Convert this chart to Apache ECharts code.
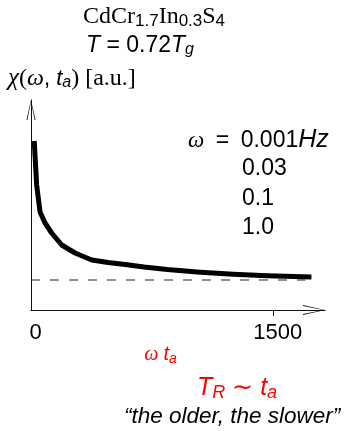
<!DOCTYPE html>
<html>
<head>
<meta charset="utf-8">
<script src="https://cdn.jsdelivr.net/npm/echarts@6/dist/echarts.min.js"></script>
<style>
  html, body { margin: 0; padding: 0; background: #fff; }
  #chart { width: 355px; height: 431px; }
</style>
</head>
<body>
<div id="chart"></div>
<script>
// Ac susceptibility relaxation vs. scaled aging time (omega * t_a)
const agingTime = [20, 35, 56, 87, 128, 190, 273, 376, 477, 583, 700, 843, 1048, 1252, 1463, 1736];
const susceptibility = [169, 125, 98, 87, 77, 65, 57, 50, 47.5, 45.5, 43, 40.5, 37.8, 35.8, 34.3, 33];

// Asymptotic (equilibrium) level
const asymptoteX = [0, 1698];
const asymptoteY = [30, 30];

const xTickLabels = [0, 1500];
const xTicks = [1500];
const frequencies = ['0.001', '0.03', '0.1', '1.0'];

const SANS = 'Liberation Sans';
const SERIF = 'Liberation Serif';

// open chevron used as the axis arrow head
const chevron = 'path://M5,0 L10,22 L9,22 L5,1.8 L1,22 L0,22 Z';

const chart = echarts.init(document.getElementById('chart'), null, { renderer: 'canvas' });

const freqText = frequencies.map(function (f, i) {
  if (i === 0) {
    return {
      type: 'text', left: 188, top: 128,
      style: {
        text: '{w|ω}\u2002=\u2002' + f + '{it|Hz}',
        fill: '#000',
        font: '23px ' + SANS,
        rich: {
          w: { fontFamily: SERIF, fontStyle: 'italic', fontSize: 23 },
          it: { fontFamily: SANS, fontStyle: 'italic', fontSize: 25 }
        }
      }
    };
  }
  return {
    type: 'text', left: 242, top: 128 + i * 29.5,
    style: { text: f, fill: '#000', font: '23px ' + SANS }
  };
});

const option = {
  animation: false,
  backgroundColor: '#fff',
  grid: { left: 31, top: 100, width: 294, height: 210, containLabel: false },
  xAxis: {
    type: 'value',
    min: 0,
    max: 1820,
    splitLine: { show: false },
    axisLine: {
      show: true,
      onZero: false,
      symbol: ['none', chevron],
      symbolSize: [10, 22],
      symbolOffset: [0, -11],
      lineStyle: { color: '#111', width: 1 }
    },
    axisTick: { show: true, customValues: xTicks, length: 6, lineStyle: { color: '#111' } },
    axisLabel: {
      customValues: xTickLabels,
      formatter: function (v) { return String(v); },
      color: '#000',
      fontFamily: SANS,
      fontSize: 22,
      margin: 12,
      padding: [0, 0, 0, 9]
    },
    name: '{w|ω} {it|t}{sub|a}',
    nameLocation: 'middle',
    nameGap: 30,
    nameTextStyle: {
      color: '#ff0000',
      fontFamily: SANS,
      fontSize: 19,
      padding: [0, 35, 0, 0],
      rich: {
        w: { fontFamily: SERIF, fontStyle: 'italic', fontSize: 20, color: '#ff0000' },
        it: { fontFamily: SANS, fontStyle: 'italic', fontSize: 20, color: '#ff0000' },
        sub: { fontFamily: SANS, fontStyle: 'italic', fontSize: 14, color: '#ff0000', padding: [8, 0, 0, 0] }
      }
    }
  },
  yAxis: {
    type: 'value',
    min: 0,
    max: 210,
    splitLine: { show: false },
    axisTick: { show: false },
    axisLabel: { show: false },
    axisLine: {
      show: true,
      symbol: ['none', chevron],
      symbolSize: [10, 20],
      symbolOffset: [0, -10],
      lineStyle: { color: '#111', width: 1 }
    },
    name: '{chi|χ}{ser|(}{w|ω}{s|, }{it|t}{sub|a}{ser|) [a.u.]}',
    nameLocation: 'end',
    nameGap: 9,
    nameTextStyle: {
      align: 'left',
      padding: [0, 0, 0, -23],
      color: '#000',
      rich: {
        chi: { fontFamily: SERIF, fontStyle: 'italic', fontSize: 25, color: '#000' },
        ser: { fontFamily: SERIF, fontSize: 24, color: '#000' },
        w: { fontFamily: SERIF, fontStyle: 'italic', fontSize: 24, color: '#000' },
        s: { fontFamily: SANS, fontSize: 22, color: '#000' },
        it: { fontFamily: SANS, fontStyle: 'italic', fontSize: 22, color: '#000' },
        sub: { fontFamily: SANS, fontStyle: 'italic', fontSize: 16, color: '#000', padding: [8, 0, 0, 0] }
      }
    }
  },
  graphic: [
    {
      type: 'text', left: 83, top: 5,
      style: {
        text: '{s|CdCr}{sub|1.7}{s|In}{sub|0.3}{s|S}{sub|4}',
        fill: '#000',
        rich: {
          s: { fontFamily: SERIF, fontSize: 24, fill: '#000' },
          sub: { fontFamily: SANS, fontSize: 17, fill: '#000', padding: [8, 0, 0, 0] }
        }
      }
    },
    {
      type: 'text', left: 86, top: 34,
      style: {
        text: '{it|T} = 0.72{it|T}{sub|g}',
        fill: '#000',
        font: '23px ' + SANS,
        rich: {
          it: { fontFamily: SANS, fontStyle: 'italic', fontSize: 23, fill: '#000' },
          sub: { fontFamily: SANS, fontStyle: 'italic', fontSize: 16, fill: '#000', padding: [8, 0, 0, 0] }
        }
      }
    }
  ].concat(freqText).concat([
    {
      type: 'text', left: 197, top: 376,
      style: {
        text: '{it|T}{sub|R} ∼ {it|t}{sub|a}',
        fill: '#ff0000',
        font: '25px ' + SANS,
        rich: {
          it: { fontFamily: SANS, fontStyle: 'italic', fontSize: 25, fill: '#ff0000' },
          sub: { fontFamily: SANS, fontStyle: 'italic', fontSize: 18, fill: '#ff0000', padding: [9, 0, 0, 0] }
        }
      }
    },
    {
      type: 'text', left: 124, top: 405,
      style: {
        text: '“the older, the slower”',
        fill: '#000',
        font: 'italic 22.5px ' + SANS
      }
    }
  ]),
  series: [
    {
      type: 'line',
      data: asymptoteX.map(function (x, i) { return [x, asymptoteY[i]]; }),
      symbol: 'none',
      lineStyle: { color: '#222', width: 1, type: [9, 10] },
      silent: true
    },
    {
      type: 'line',
      data: agingTime.map(function (x, i) { return [x, susceptibility[i]]; }),
      symbol: 'none',
      smooth: false,
      lineStyle: { color: '#000', width: 5, cap: 'butt', join: 'round' },
      silent: true
    }
  ]
};

chart.setOption(option);
</script>
</body>
</html>
